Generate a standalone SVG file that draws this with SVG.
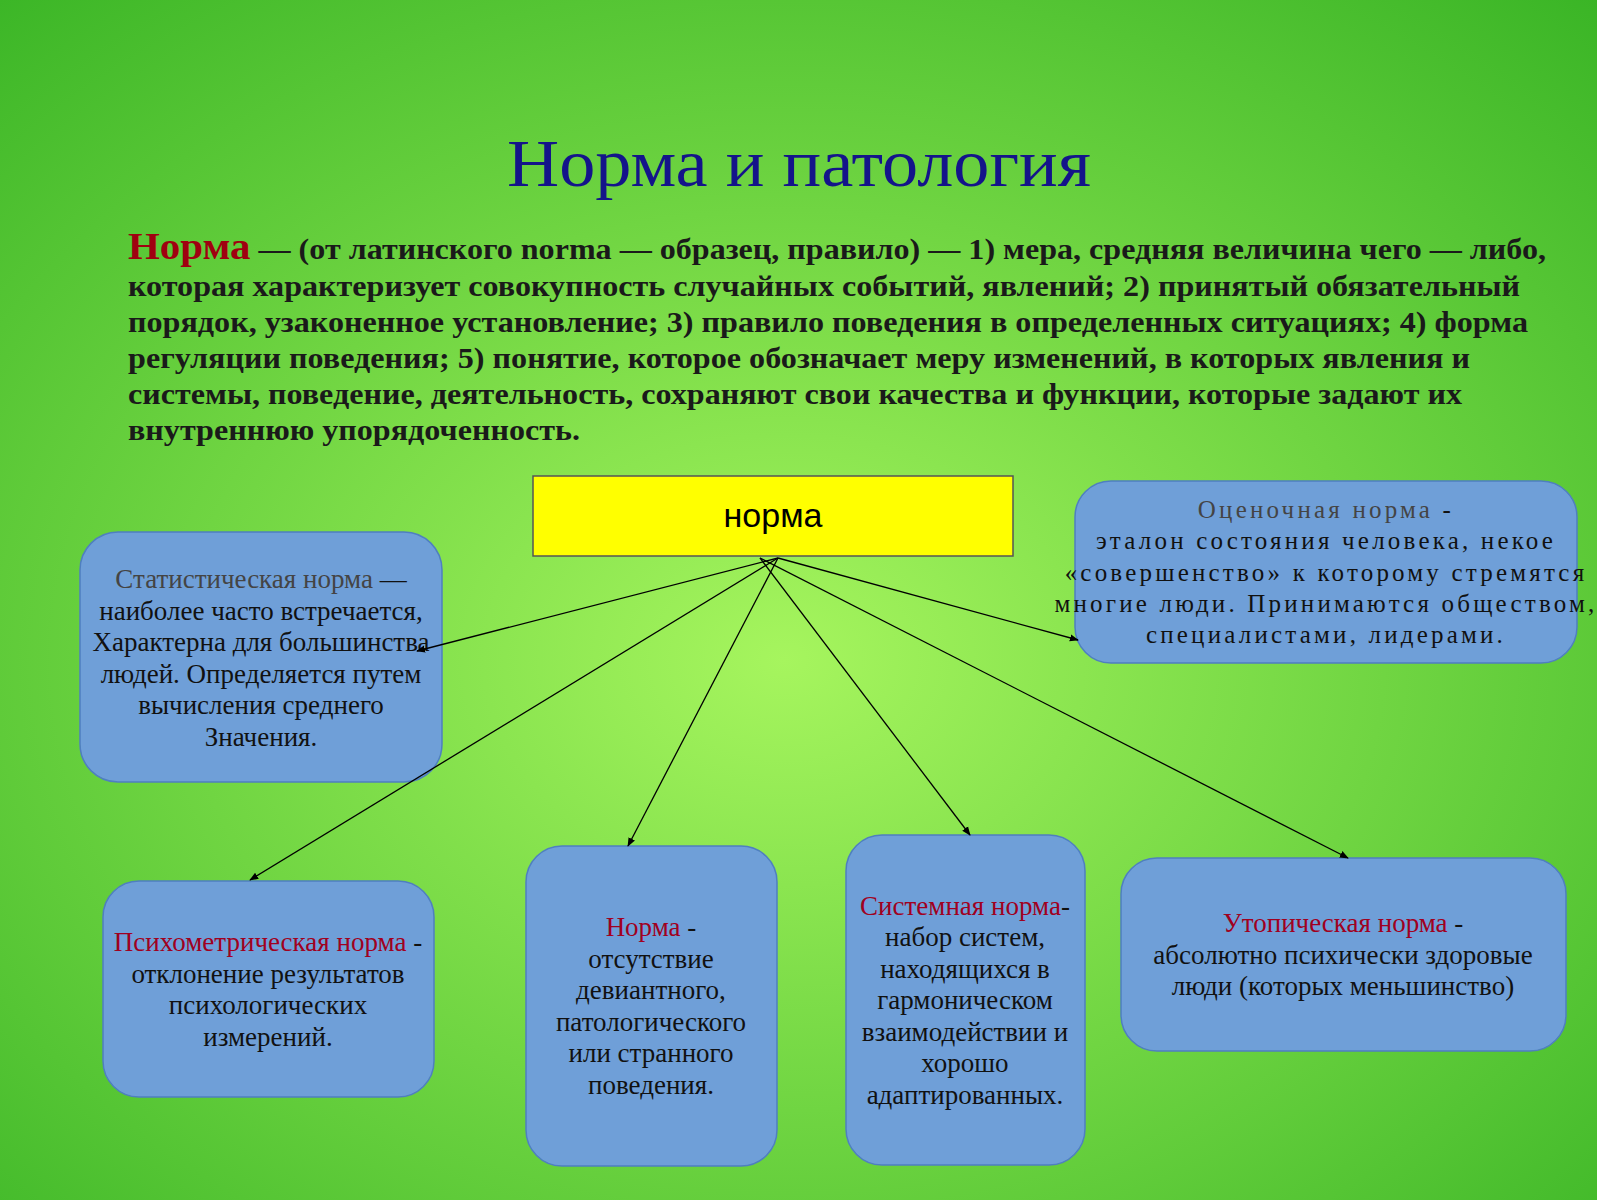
<svg xmlns="http://www.w3.org/2000/svg" width="1600" height="1200" viewBox="0 0 1600 1200">
<defs>
<radialGradient id="bg" cx="0.49" cy="0.55" r="0.75">
<stop offset="0" stop-color="#a6f55e"/>
<stop offset="1" stop-color="#3ab526"/>
</radialGradient>
<marker id="ah" viewBox="0 0 10 10" refX="9" refY="5" markerWidth="9" markerHeight="9" orient="auto-start-reverse" markerUnits="userSpaceOnUse">
<path d="M0,1 L10,5 L0,9 z" fill="#000"/>
</marker>
<style>
.box{fill:#6f9fd8;stroke:#4f7fc0;stroke-width:1.5}
.t{font-family:"Liberation Serif",serif;font-size:27px;fill:#111;text-anchor:middle}
.r{fill:#a00020}
.sp{letter-spacing:3.2px;font-size:25px}
.c line{stroke:#000;stroke-width:1.3;marker-end:url(#ah)}
.d{font-family:"Liberation Serif",serif;font-size:29px;font-weight:bold;fill:#1a1a1a}
</style>
</defs>
<rect width="1600" height="1200" fill="url(#bg)"/>
<rect x="1597" y="0" width="3" height="1200" fill="#fff"/>
<text x="507" y="186" font-family="Liberation Serif,serif" font-size="68" fill="#14148a" textLength="584" lengthAdjust="spacingAndGlyphs">Норма и патология</text>
<text class="d" x="128" y="259" textLength="1418" lengthAdjust="spacingAndGlyphs"><tspan fill="#a00010" font-size="37">Норма</tspan> — (от латинского norma — образец, правило) — 1) мера, средняя величина чего — либо,</text>
<text class="d" x="128" y="296" textLength="1392" lengthAdjust="spacingAndGlyphs">которая характеризует совокупность случайных событий, явлений; 2) принятый обязательный</text>
<text class="d" x="128" y="332" textLength="1400" lengthAdjust="spacingAndGlyphs">порядок, узаконенное установление; 3) правило поведения в определенных ситуациях; 4) форма</text>
<text class="d" x="128" y="368" textLength="1342" lengthAdjust="spacingAndGlyphs">регуляции поведения; 5) понятие, которое обозначает меру изменений, в которых явления и</text>
<text class="d" x="128" y="404" textLength="1334" lengthAdjust="spacingAndGlyphs">системы, поведение, деятельность, сохраняют свои качества и функции, которые задают их</text>
<text class="d" x="128" y="440" textLength="452" lengthAdjust="spacingAndGlyphs">внутреннюю упорядоченность.</text>

<g id="norma"><rect x="533" y="476" width="480" height="80" fill="#ffff00" stroke="#555" stroke-width="1.5"/>
<text x="773" y="527" font-family="Liberation Sans,sans-serif" font-size="34" text-anchor="middle" fill="#000">норма</text></g>

<g id="stat"><rect class="box" x="80" y="532" width="362" height="250" rx="38"/>
<text class="t"><tspan x="261" y="588"><tspan fill="#444">Статистическая норма</tspan> —</tspan><tspan x="261" y="620">наиболее часто встречается,</tspan><tspan x="261" y="651">Характерна для большинства</tspan><tspan x="261" y="683">людей. Определяется путем</tspan><tspan x="261" y="714">вычисления среднего</tspan><tspan x="261" y="746">Значения.</tspan></text></g>

<g id="ocen"><rect class="box" x="1075" y="481" width="502" height="182" rx="36"/>
<text class="t sp"><tspan x="1326" y="518"><tspan fill="#444">Оценочная норма</tspan> -</tspan><tspan x="1326" y="549">эталон состояния человека, некое</tspan><tspan x="1326" y="581">«совершенство» к которому стремятся</tspan><tspan x="1326" y="612">многие люди. Принимаются обществом,</tspan><tspan x="1326" y="643">специалистами, лидерами.</tspan></text></g>

<g id="psih"><rect class="box" x="103" y="881" width="331" height="216" rx="36"/>
<text class="t"><tspan x="268" y="951"><tspan class="r">Психометрическая норма</tspan> -</tspan><tspan x="268" y="983">отклонение результатов</tspan><tspan x="268" y="1014">психологических</tspan><tspan x="268" y="1046">измерений.</tspan></text></g>

<g id="normb"><rect class="box" x="526" y="846" width="251" height="320" rx="36"/>
<text class="t"><tspan x="651" y="936"><tspan class="r">Норма</tspan> -</tspan><tspan x="651" y="968">отсутствие</tspan><tspan x="651" y="999">девиантного,</tspan><tspan x="651" y="1031">патологического</tspan><tspan x="651" y="1062">или странного</tspan><tspan x="651" y="1094">поведения.</tspan></text></g>

<g id="sist"><rect class="box" x="846" y="835" width="239" height="330" rx="36"/>
<text class="t"><tspan x="965" y="915"><tspan class="r">Системная норма</tspan>-</tspan><tspan x="965" y="946">набор систем,</tspan><tspan x="965" y="978">находящихся в</tspan><tspan x="965" y="1009">гармоническом</tspan><tspan x="965" y="1041">взаимодействии и</tspan><tspan x="965" y="1072">хорошо</tspan><tspan x="965" y="1104">адаптированных.</tspan></text></g>

<g id="utop"><rect class="box" x="1121" y="858" width="445" height="193" rx="36"/>
<text class="t"><tspan x="1343" y="932"><tspan class="r">Утопическая норма</tspan> -</tspan><tspan x="1343" y="964">абсолютно психически здоровые</tspan><tspan x="1343" y="995">люди (которых меньшинство)</tspan></text></g>

<g class="c" id="connectors">
<line x1="778" y1="558" x2="417" y2="651"/>
<line x1="778" y1="558" x2="1078" y2="640"/>
<line x1="778" y1="558" x2="250" y2="880"/>
<line x1="778" y1="558" x2="628" y2="846"/>
<line x1="760" y1="558" x2="970" y2="835"/>
<line x1="760" y1="558" x2="1348" y2="858"/>
</g>
</svg>
